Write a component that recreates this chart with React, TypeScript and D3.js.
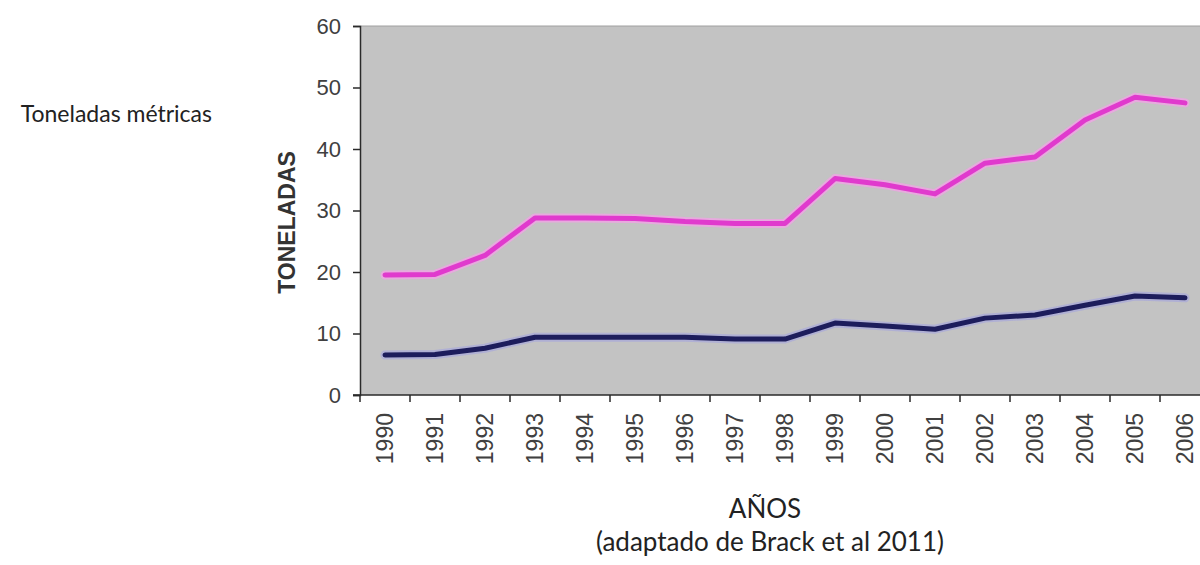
import React, { useEffect, useRef } from 'react'
import { select, scaleBand, scaleLinear, line, curveLinear, axisLeft } from 'd3'

const years = ['1990', '1991', '1992', '1993', '1994', '1995', '1996', '1997', '1998',
  '1999', '2000', '2001', '2002', '2003', '2004', '2005', '2006']
const upperSeries = [19.5, 19.6, 22.7, 28.8, 28.8, 28.7, 28.2, 27.9, 27.9,
  35.2, 34.2, 32.7, 37.7, 38.7, 44.7, 48.4, 47.5]
const lowerSeries = [6.5, 6.6, 7.6, 9.4, 9.4, 9.4, 9.4, 9.1, 9.1,
  11.7, 11.2, 10.7, 12.5, 13.0, 14.6, 16.1, 15.8]
const yTicks = [0, 10, 20, 30, 40, 50, 60]

const W = 1200
const H = 565
const plot = { left: 360, right: 1210, top: 26, bottom: 395 }

export default function App() {
  const svgRef = useRef<SVGSVGElement>(null)

  useEffect(() => {
    document.body.style.margin = '0'
    const svg = select(svgRef.current)
    svg.selectAll('*').remove()

    const xScale = scaleBand<string>()
      .domain(years)
      .range([plot.left, plot.right])
    const yScale = scaleLinear()
      .domain([0, 60])
      .range([plot.bottom, plot.top])
    const cx = (d: string) => (xScale(d) as number) + xScale.bandwidth() / 2

    // plot background
    svg.append('rect')
      .attr('x', plot.left)
      .attr('y', plot.top)
      .attr('width', plot.right - plot.left)
      .attr('height', plot.bottom - plot.top)
      .attr('fill', '#c3c3c3')
    svg.append('line')
      .attr('x1', plot.left).attr('x2', plot.right)
      .attr('y1', plot.top).attr('y2', plot.top)
      .attr('stroke', '#a0a0a0')

    // y axis
    const yAxis = axisLeft(yScale).tickValues(yTicks).tickSize(7).tickPadding(12)
    const yg = svg.append('g')
      .attr('transform', `translate(${plot.left}, 0)`)
      .call(yAxis)
    yg.select('.domain').attr('stroke', '#2a2a2a').attr('stroke-width', 1.5)
    yg.selectAll('.tick line').attr('stroke', '#2a2a2a').attr('stroke-width', 1.5)
    yg.selectAll('.tick text')
      .attr('font-family', 'Liberation Sans, Arial, sans-serif')
      .attr('font-size', 22)
      .attr('fill', '#404040')

    // x axis (ticks between categories)
    const xg = svg.append('g')
    xg.append('line')
      .attr('x1', plot.left - 7).attr('x2', plot.right)
      .attr('y1', plot.bottom).attr('y2', plot.bottom)
      .attr('stroke', '#2a2a2a').attr('stroke-width', 1.5)
    xg.selectAll('line.tk')
      .data(years)
      .join('line')
      .attr('class', 'tk')
      .attr('x1', d => xScale(d) as number)
      .attr('x2', d => xScale(d) as number)
      .attr('y1', plot.bottom)
      .attr('y2', plot.bottom + 7)
      .attr('stroke', '#2a2a2a').attr('stroke-width', 1.5)
    xg.selectAll('text')
      .data(years)
      .join('text')
      .attr('transform', d => `translate(${cx(d)}, ${plot.bottom + 18}) rotate(-90)`)
      .attr('text-anchor', 'end')
      .attr('dy', '0.36em')
      .attr('font-family', 'Liberation Sans, Arial, sans-serif')
      .attr('font-size', 23)
      .attr('fill', '#404040')
      .text(d => d)

    // lines
    const gen = line<number>()
      .x((_, i) => cx(years[i]))
      .y(d => yScale(d))
      .curve(curveLinear)

    const drawSeries = (values: number[], halo: string, core: string) => {
      svg.append('path')
        .attr('d', gen(values))
        .attr('fill', 'none')
        .attr('stroke', halo)
        .attr('stroke-width', 9)
        .attr('stroke-linejoin', 'round')
        .attr('stroke-linecap', 'round')
        .attr('opacity', 0.7)
      svg.append('path')
        .attr('d', gen(values))
        .attr('fill', 'none')
        .attr('stroke', core)
        .attr('stroke-width', 5)
        .attr('stroke-linejoin', 'round')
        .attr('stroke-linecap', 'round')
    }
    drawSeries(upperSeries, '#f7a0ea', '#e03acd')
    drawSeries(lowerSeries, '#a8a8dc', '#1d1d5c')

    // labels
    svg.append('text')
      .attr('transform', `translate(295, ${(plot.top + plot.bottom) / 2 + 12}) rotate(-90)`)
      .attr('text-anchor', 'middle')
      .attr('font-family', 'Liberation Sans, Arial, sans-serif')
      .attr('font-weight', 'bold')
      .attr('font-size', 23)
      .attr('fill', '#333')
      .text('TONELADAS')

    svg.append('text')
      .attr('x', 212).attr('y', 122)
      .attr('text-anchor', 'end')
      .attr('font-family', 'Lato, sans-serif')
      .attr('font-size', 23)
      .attr('fill', '#222')
      .text('Toneladas métricas')

    svg.append('text')
      .attr('x', 765).attr('y', 518)
      .attr('text-anchor', 'middle')
      .attr('font-family', 'Lato, sans-serif')
      .attr('font-size', 26)
      .attr('fill', '#222')
      .text('AÑOS')

    svg.append('text')
      .attr('x', 770).attr('y', 551)
      .attr('text-anchor', 'middle')
      .attr('font-family', 'Lato, sans-serif')
      .attr('font-size', 26)
      .attr('fill', '#222')
      .text('(adaptado de Brack et al 2011)')
  }, [])

  return (
    <svg ref={svgRef} width={W} height={H} style={{ display: 'block', background: '#fff' }} />
  )
}
